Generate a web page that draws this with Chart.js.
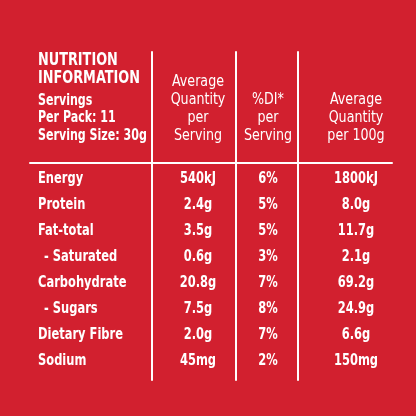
<!DOCTYPE html>
<html><head><meta charset="utf-8">
<script src="https://cdn.jsdelivr.net/npm/chart.js@4"></script>
<style>html,body{margin:0;padding:0;background:#d2202f;}#c{display:block}</style>
</head><body>
<div style="width:416px;height:416px"><canvas id="c" width="416" height="416"></canvas></div>
<script>
const nutrients = ["Energy","Protein","Fat-total","- Saturated","Carbohydrate","- Sugars","Dietary Fibre","Sodium"];
const perServing = ["540kJ","2.4g","3.5g","0.6g","20.8g","7.5g","2.0g","45mg"];
const percentDI = ["6%","5%","5%","3%","7%","8%","7%","2%"];
const per100g = ["1800kJ","8.0g","11.7g","2.1g","69.2g","24.9g","6.6g","150mg"];
const titleLines = ["NUTRITION","INFORMATION"];
const infoLines = ["Servings","Per Pack: 11","Serving Size: 30g"];
const colHeaders = [["Average","Quantity","per","Serving"],["%DI*","per","Serving"],["Average","Quantity","per 100g"]];

const FONT = '"DejaVu Sans Condensed","Liberation Sans Narrow",sans-serif';
const layout = {rowY0:179,rowStep:26,labelX:38,indentX:44,colX:[198,268,356],sepX:[152,236,298],sepTop:52,sepBot:380,hLineY:163,hLineX0:30,hLineX1:392};

function txt(ctx,t,x,y,align,sx){
  ctx.save();ctx.translate(x,y);ctx.scale(sx,1);ctx.textAlign=align;ctx.fillText(t,0,0);ctx.restore();
}

const tablePlugin = {
  id:'table',
  afterDraw(chart){
    const ctx=chart.ctx, xs=chart.scales.x, ys=chart.scales.y;
    const X=v=>xs.getPixelForValue(v), Y=v=>ys.getPixelForValue(v);
    ctx.save();
    ctx.strokeStyle='#fff'; ctx.lineWidth=2; ctx.lineCap='round';
    layout.sepX.forEach(sx=>{ctx.beginPath();ctx.moveTo(X(sx),Y(layout.sepTop));ctx.lineTo(X(sx),Y(layout.sepBot));ctx.stroke();});
    ctx.beginPath();ctx.moveTo(X(layout.hLineX0),Y(layout.hLineY));ctx.lineTo(X(layout.hLineX1),Y(layout.hLineY));ctx.stroke();
    ctx.fillStyle='#fff'; ctx.textBaseline='middle';
    ctx.font='bold 17px '+FONT;
    titleLines.forEach((t,i)=>txt(ctx,t,X(layout.labelX),Y(61+i*18),'left',0.84));
    ctx.font='bold 15px '+FONT;
    infoLines.forEach((t,i)=>txt(ctx,t,X(layout.labelX),Y(101+i*17.5),'left',0.82));
    ctx.font='16px '+FONT;
    colHeaders.forEach((lines,c)=>{
      const start = 136 - (lines.length-1)*18;
      lines.forEach((t,i)=>txt(ctx,t,X(layout.colX[c]),Y(start+i*18),'center',0.88));
    });
    ctx.font='bold 15px '+FONT;
    nutrients.forEach((n,i)=>{
      const y=Y(layout.rowY0+i*layout.rowStep);
      txt(ctx,n,X(n.startsWith('-')?layout.indentX:layout.labelX),y,'left',0.85);
      txt(ctx,perServing[i],X(layout.colX[0]),y,'center',0.85);
      txt(ctx,percentDI[i],X(layout.colX[1]),y,'center',0.85);
      txt(ctx,per100g[i],X(layout.colX[2]),y,'center',0.85);
    });
    ctx.restore();
  }
};

new Chart(document.getElementById('c'),{
  type:'scatter',
  data:{datasets:[{data:[]}]},
  options:{responsive:false,animation:false,layout:{padding:0},
    plugins:{legend:{display:false},tooltip:{enabled:false}},
    scales:{x:{type:'linear',min:0,max:416,display:false},y:{type:'linear',min:0,max:416,reverse:true,display:false}}},
  plugins:[tablePlugin]
});
</script></body></html>
